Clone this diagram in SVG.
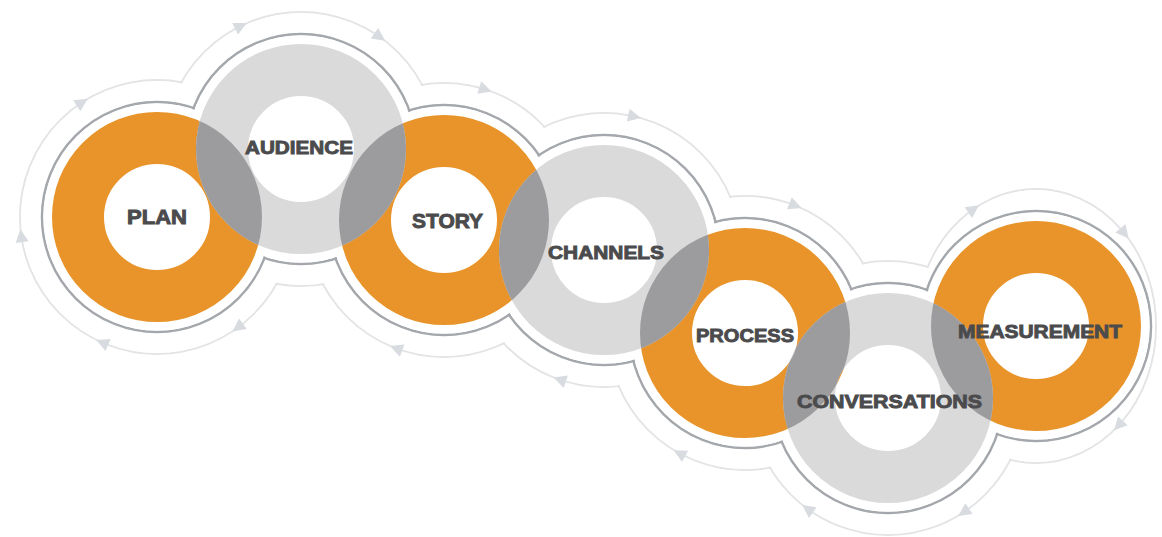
<svg xmlns="http://www.w3.org/2000/svg" width="1162" height="537" viewBox="0 0 1162 537">
<style>
.trk{fill:none;stroke:#e3e4e6;stroke-width:2}
.wt{fill:#ffffff}
.ol{fill:none;stroke:#a4a7ab;stroke-width:2.5}
.or{fill:none;stroke:#e8942a;stroke-width:52}
.gr{fill:none;stroke:#dadada;stroke-width:52}
.dk{fill:none;stroke:#9c9c9e;stroke-width:52}
.mk{fill:none;stroke:#ffffff;stroke-width:52}
.arr{fill:#d8dbdf}
.lbl{font-family:"Liberation Sans",Arial,sans-serif;font-weight:bold;font-size:18.5px;fill:#4b4b4d;stroke:#4b4b4d;stroke-width:0.9;text-anchor:middle}
</style>
<defs>
<polygon id="ah" points="7,0 -6,-6.5 -6,6.5"/>
<mask id="orangeMask" maskUnits="userSpaceOnUse" x="0" y="0" width="1162" height="537">
<rect x="0" y="0" width="1162" height="537" fill="#000000"/>
<circle class="mk" cx="157" cy="217" r="79"/>
<circle class="mk" cx="444" cy="220" r="79"/>
<circle class="mk" cx="745" cy="333" r="79"/>
<circle class="mk" cx="1036" cy="326" r="79"/>
</mask>
</defs>
<rect x="0" y="0" width="1162" height="537" fill="#ffffff"/>

<g id="connectors">
<circle class="trk" cx="157" cy="217" r="137"/>
<circle class="trk" cx="301" cy="149" r="137"/>
<circle class="trk" cx="444" cy="220" r="137"/>
<circle class="trk" cx="604" cy="250" r="137"/>
<circle class="trk" cx="745" cy="333" r="137"/>
<circle class="trk" cx="888" cy="398" r="137"/>
<ellipse class="trk" cx="1036" cy="326" rx="120" ry="137"/>
<circle class="wt" cx="157" cy="217" r="135.9"/>
<circle class="wt" cx="301" cy="149" r="135.9"/>
<circle class="wt" cx="444" cy="220" r="135.9"/>
<circle class="wt" cx="604" cy="250" r="135.9"/>
<circle class="wt" cx="745" cy="333" r="135.9"/>
<circle class="wt" cx="888" cy="398" r="135.9"/>
<ellipse class="wt" cx="1036" cy="326" rx="118.9" ry="135.9"/>
<use href="#ah" class="arr" transform="translate(21.3,236.1) rotate(262)"/>
<use href="#ah" class="arr" transform="translate(81.8,102.5) rotate(-33.3)"/>
<use href="#ah" class="arr" transform="translate(240.5,26.1) rotate(-26.2)"/>
<use href="#ah" class="arr" transform="translate(379.4,36.7) rotate(34.9)"/>
<use href="#ah" class="arr" transform="translate(485,89.3) rotate(17.4)"/>
<use href="#ah" class="arr" transform="translate(634.1,116.4) rotate(12.7)"/>
<use href="#ah" class="arr" transform="translate(795,205.5) rotate(21.4)"/>
<use href="#ah" class="arr" transform="translate(973.3,209.2) rotate(-35)"/>
<use href="#ah" class="arr" transform="translate(1124.2,233.1) rotate(51.1)"/>
<use href="#ah" class="arr" transform="translate(1118.8,425.2) rotate(132.6)"/>
<use href="#ah" class="arr" transform="translate(964,512) rotate(146.3)"/>
<use href="#ah" class="arr" transform="translate(807.9,509.1) rotate(215.8)"/>
<use href="#ah" class="arr" transform="translate(679.8,453.5) rotate(208.4)"/>
<use href="#ah" class="arr" transform="translate(560.1,379.8) rotate(198.7)"/>
<use href="#ah" class="arr" transform="translate(396.5,348.5) rotate(200.3)"/>
<use href="#ah" class="arr" transform="translate(238.1,327.4) rotate(143.7)"/>
<use href="#ah" class="arr" transform="translate(102.6,342.7) rotate(203.4)"/>
</g>

<g id="outline">
<circle class="ol" cx="157" cy="217" r="115"/>
<circle class="ol" cx="301" cy="149" r="115"/>
<circle class="ol" cx="444" cy="220" r="115"/>
<circle class="ol" cx="604" cy="250" r="115"/>
<circle class="ol" cx="745" cy="333" r="115"/>
<circle class="ol" cx="888" cy="398" r="115"/>
<circle class="ol" cx="1036" cy="326" r="115"/>
<circle class="wt" cx="157" cy="217" r="113.6"/>
<circle class="wt" cx="301" cy="149" r="113.6"/>
<circle class="wt" cx="444" cy="220" r="113.6"/>
<circle class="wt" cx="604" cy="250" r="113.6"/>
<circle class="wt" cx="745" cy="333" r="113.6"/>
<circle class="wt" cx="888" cy="398" r="113.6"/>
<circle class="wt" cx="1036" cy="326" r="113.6"/>
</g>

<g id="plan"><circle class="or" cx="157" cy="217" r="79"/></g>
<g id="story"><circle class="or" cx="444" cy="220" r="79"/></g>
<g id="process"><circle class="or" cx="745" cy="333" r="79"/></g>
<g id="measurement"><circle class="or" cx="1036" cy="326" r="79"/></g>
<g id="audience"><circle class="gr" cx="301" cy="149" r="79"/></g>
<g id="channels"><circle class="gr" cx="604" cy="250" r="79"/></g>
<g id="conversations"><circle class="gr" cx="888" cy="398" r="79"/></g>

<g id="overlaps" mask="url(#orangeMask)">
<circle class="dk" cx="301" cy="149" r="79"/>
<circle class="dk" cx="604" cy="250" r="79"/>
<circle class="dk" cx="888" cy="398" r="79"/>
</g>

<g id="labels">
<text class="lbl" x="157" y="224" style="font-size:19.5px" textLength="60" lengthAdjust="spacingAndGlyphs">PLAN</text>
<text class="lbl" x="299" y="154" textLength="108" lengthAdjust="spacingAndGlyphs">AUDIENCE</text>
<text class="lbl" x="447.5" y="228" style="font-size:19.5px" textLength="71" lengthAdjust="spacingAndGlyphs">STORY</text>
<text class="lbl" x="606" y="259" textLength="116" lengthAdjust="spacingAndGlyphs">CHANNELS</text>
<text class="lbl" x="745" y="341.5" textLength="98" lengthAdjust="spacingAndGlyphs">PROCESS</text>
<text class="lbl" x="889.5" y="408" textLength="185" lengthAdjust="spacingAndGlyphs">CONVERSATIONS</text>
<text class="lbl" x="1040" y="337.5" textLength="164" lengthAdjust="spacingAndGlyphs">MEASUREMENT</text>
</g>
</svg>
